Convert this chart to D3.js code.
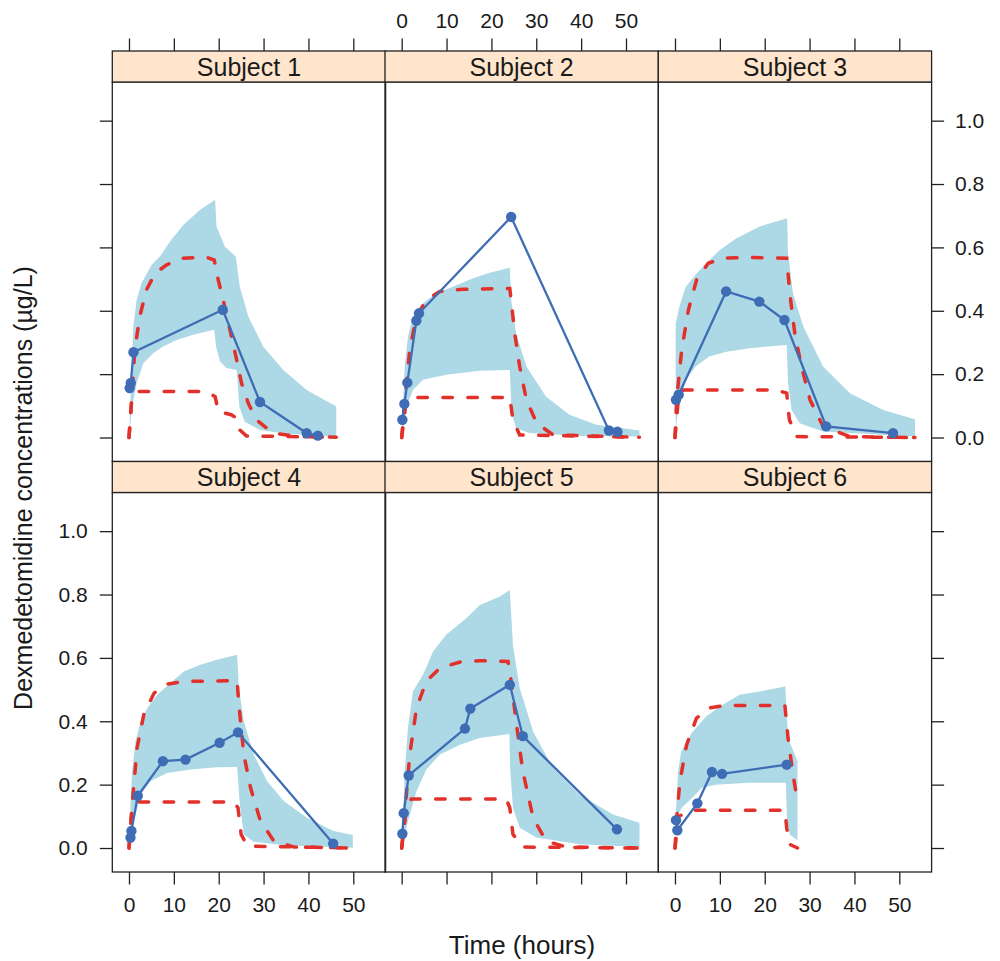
<!DOCTYPE html>
<html>
<head>
<meta charset="utf-8">
<script src="https://cdn.jsdelivr.net/npm/d3@7"></script>
<style>
  body { margin: 0; background: #fff; }
  svg text { font-family: "Liberation Sans", Arial, Helvetica, sans-serif; fill: #1a1a1a; }
</style>
</head>
<body>
<svg id="chart" width="1000" height="961"></svg>
<script>
const subjects = ["Subject 1", "Subject 2", "Subject 3", "Subject 4", "Subject 5", "Subject 6"];
const xTicks = [0, 10, 20, 30, 40, 50];
const yTicks = [0, 0.2, 0.4, 0.6, 0.8, 1.0];

// observed concentrations
const obsTime = [
  [0.15, 0.4, 1.0, 20.9, 29.2, 39.6, 42.1],
  [0.15, 0.6, 1.26, 3.27, 3.86, 24.4, 46.2, 48.1],
  [0.22, 0.82, 11.4, 18.8, 24.4, 33.7, 48.6],
  [0.33, 0.55, 1.96, 7.55, 12.6, 20.2, 24.3, 45.5],
  [0.15, 0.45, 1.56, 14.1, 15.3, 24.1, 27.0, 48.0],
  [0.22, 0.52, 4.98, 8.24, 10.5, 24.9]
];
const obsConc = [
  [0.156, 0.172, 0.269, 0.403, 0.112, 0.014, 0.006],
  [0.056, 0.106, 0.173, 0.369, 0.392, 0.696, 0.022, 0.018],
  [0.119, 0.135, 0.461, 0.429, 0.371, 0.035, 0.014],
  [0.033, 0.054, 0.165, 0.274, 0.279, 0.332, 0.365, 0.014],
  [0.045, 0.110, 0.229, 0.377, 0.440, 0.515, 0.353, 0.059],
  [0.088, 0.056, 0.141, 0.240, 0.234, 0.263]
];

// prediction band, upper edge
const bandHiTime = [
  [0, 0.96, 1.7, 2.8, 5.05, 6.9, 9.1, 12.1, 15.8, 19.2, 19.5, 21.4, 23.8, 24.7, 26.6, 29.9, 34.4, 39.6, 46.2],
  [0, 0.67, 1.4, 2.5, 4.75, 7.7, 11.4, 15.9, 19.6, 24.1, 24.4, 25.5, 27.8, 32.2, 37.4, 43.4, 53.0],
  [0.15, 0.97, 2.4, 4.8, 7.0, 10.0, 13.7, 18.9, 25.0, 25.2, 26.3, 28.6, 33.0, 39.0, 46.4, 53.5],
  [0.19, 0.33, 0.7, 1.45, 2.6, 4.1, 6.3, 9.2, 12.2, 15.9, 19.6, 24.1, 24.5, 25.6, 27.8, 30.8, 34.5, 39.7, 45.6, 49.9],
  [0, 0.3, 0.67, 1.4, 2.5, 4.75, 7.0, 9.9, 14.4, 17.4, 21.8, 24.1, 24.8, 26.3, 29.3, 33.7, 39.6, 47.1, 53.0],
  [0.2, 0.7, 1.4, 3.7, 7.0, 10.0, 14.4, 18.2, 24.6, 25.2, 27.3]
];
const bandHi = [
  [0, 0.35, 0.434, 0.487, 0.545, 0.571, 0.618, 0.671, 0.718, 0.75, 0.666, 0.602, 0.571, 0.476, 0.382, 0.287, 0.213, 0.150, 0.098],
  [0, 0.224, 0.319, 0.382, 0.424, 0.455, 0.476, 0.503, 0.52, 0.536, 0.434, 0.329, 0.224, 0.129, 0.072, 0.04, 0.022],
  [0.36, 0.413, 0.476, 0.518, 0.55, 0.592, 0.629, 0.666, 0.692, 0.581, 0.455, 0.35, 0.224, 0.14, 0.087, 0.058],
  [0, 0.137, 0.242, 0.337, 0.4, 0.442, 0.484, 0.52, 0.557, 0.578, 0.594, 0.61, 0.505, 0.4, 0.295, 0.211, 0.148, 0.095, 0.054, 0.041],
  [0, 0.085, 0.242, 0.379, 0.494, 0.547, 0.62, 0.673, 0.725, 0.767, 0.793, 0.814, 0.641, 0.505, 0.368, 0.253, 0.169, 0.106, 0.08],
  [0.106, 0.242, 0.305, 0.363, 0.416, 0.447, 0.484, 0.492, 0.51, 0.347, 0.274]
];

// prediction band, lower edge
const bandLoTime = [
  [0, 0.59, 1.7, 3.2, 5.4, 7.6, 10.6, 14.3, 19.0, 19.4, 20.3, 21.7, 24.0, 24.6, 25.8, 29.2, 35.1, 46.2],
  [0, 1.04, 2.5, 4.75, 9.9, 17.4, 24.1, 24.5, 25.5, 28.5, 39.6, 53.0],
  [0.15, 0.97, 2.4, 4.6, 7.6, 11.5, 16.7, 24.9, 25.2, 26.0, 27.8, 33.0, 53.5],
  [0.19, 1.1, 2.6, 4.8, 8.5, 13.7, 19.6, 24.1, 24.7, 25.6, 27.8, 34.5, 49.9],
  [0, 1.4, 3.3, 5.5, 8.5, 13.0, 17.4, 24.0, 24.2, 24.8, 26.3, 30.0, 39.6, 53.0],
  [0.2, 1.5, 3.8, 6.0, 9.0, 16.4, 24.7, 25.0, 25.6, 27.3]
];
const bandLo = [
  [0, 0.087, 0.171, 0.234, 0.266, 0.287, 0.308, 0.324, 0.340, 0.287, 0.240, 0.219, 0.213, 0.098, 0.05, 0.024, 0.012, 0.003],
  [0, 0.098, 0.15, 0.182, 0.198, 0.211, 0.213, 0.077, 0.029, 0.014, 0.005, 0.003],
  [0.03, 0.108, 0.182, 0.224, 0.256, 0.271, 0.282, 0.292, 0.171, 0.087, 0.045, 0.019, 0.003],
  [0, 0.085, 0.169, 0.211, 0.237, 0.248, 0.255, 0.256, 0.137, 0.043, 0.02, 0.009, 0.001],
  [0, 0.085, 0.179, 0.248, 0.295, 0.326, 0.347, 0.36, 0.242, 0.127, 0.064, 0.033, 0.012, 0.003],
  [0.09, 0.127, 0.158, 0.19, 0.2, 0.206, 0.206, 0.085, 0.043, 0.024]
];

// predicted curves (red dashed), upper
const predHiTime = [
  [0, 0.6, 1.3, 2.4, 3.9, 5.8, 8.4, 12.1, 17.3, 19.0, 19.9, 21.0, 22.5, 24.0, 25.1, 26.6, 28.4, 32.1, 38.1, 46.2],
  [0, 0.67, 1.8, 3.27, 5.5, 8.5, 13.7, 24.1, 24.4, 25.2, 26.3, 27.8, 30.1, 33.8, 53.0],
  [0, 0.37, 1.5, 3.0, 4.8, 7.4, 10.8, 16.7, 24.9, 25.6, 26.7, 28.2, 30.1, 33.0, 39.0, 53.5],
  [0, 0.7, 1.8, 3.3, 5.6, 8.5, 12.2, 24.1, 24.5, 25.6, 27.1, 29.3, 32.3, 36.8, 50.2],
  [0, 0.67, 1.8, 3.3, 5.5, 8.5, 13.0, 17.4, 23.7, 24.4, 25.5, 27.0, 29.3, 32.2, 36.7, 53.0],
  [0, 0.37, 1.1, 2.6, 4.8, 7.7, 10.7, 16.7, 24.5, 25.2, 26.3, 27.3]
];
const predHi = [
  [0, 0.119, 0.277, 0.382, 0.466, 0.518, 0.545, 0.566, 0.569, 0.560, 0.497, 0.434, 0.340, 0.245, 0.171, 0.108, 0.056, 0.014, 0.003, 0.001],
  [0, 0.119, 0.277, 0.382, 0.434, 0.461, 0.468, 0.470, 0.434, 0.329, 0.224, 0.119, 0.045, 0.008, 0.001],
  [0, 0.119, 0.277, 0.403, 0.497, 0.55, 0.566, 0.568, 0.566, 0.455, 0.329, 0.224, 0.119, 0.035, 0.003, 0],
  [0, 0.137, 0.316, 0.421, 0.489, 0.517, 0.526, 0.528, 0.452, 0.295, 0.19, 0.085, 0.022, 0.003, 0],
  [0, 0.106, 0.295, 0.442, 0.526, 0.568, 0.587, 0.591, 0.589, 0.526, 0.4, 0.242, 0.095, 0.022, 0.003, 0],
  [0, 0.095, 0.211, 0.326, 0.41, 0.442, 0.449, 0.45, 0.45, 0.347, 0.232, 0.148]
];

// predicted curves (red dashed), lower
const predLoTime = [
  [0, 0.6, 1.7, 17.3, 19.2, 19.9, 22.8, 24.0, 24.7, 26.2, 46.2],
  [0, 1.04, 2.1, 24.1, 24.8, 26.3, 53.0],
  [0, 0.9, 1.9, 22.6, 24.9, 25.5, 27.1, 53.5],
  [0, 0.7, 1.8, 23.4, 24.3, 25.0, 26.4, 50.2],
  [0, 1.04, 2.15, 23.3, 24.1, 24.8, 27.0, 53.0],
  [0, 0.82, 3.7, 24.5, 24.9, 25.5, 27.3]
];
const predLo = [
  [0, 0.12, 0.145, 0.145, 0.129, 0.082, 0.072, 0.061, 0.024, 0.005, 0.001],
  [0, 0.119, 0.126, 0.126, 0.056, 0.008, 0.001],
  [0, 0.145, 0.15, 0.15, 0.14, 0.056, 0.003, 0],
  [0, 0.127, 0.145, 0.145, 0.127, 0.043, 0.006, 0],
  [0, 0.127, 0.155, 0.155, 0.127, 0.043, 0.003, 0],
  [0, 0.1, 0.119, 0.119, 0.064, 0.012, 0]
];

const svg = d3.select("#chart");
const colX = [112.3, 385, 658.3];
const panelW = 273.3;
const rowTop = [51, 461.5];
const stripH = 31;
const panelH = 379.5;
const tickLen = 12.5;

const x = d3.scaleLinear().domain([-3.72, 57.2]).range([0, panelW]);
const y = d3.scaleLinear().domain([-0.0757, 1.122]).range([panelH, 0]);

const bandColor = "#add8e6";
const obsColor = "#3e6db6";
const predColor = "#e2302a";

svg.append("defs").append("clipPath").attr("id", "pclip")
  .append("rect").attr("width", panelW).attr("height", panelH);

const line = d3.line().x(d => x(d[0])).y(d => y(d[1]));

subjects.forEach((name, i) => {
  const row = i < 3 ? 0 : 1;
  const col = i % 3;
  const g = svg.append("g")
    .attr("transform", `translate(${colX[col]},${rowTop[row] + stripH})`);

  // strip
  const strip = svg.append("g").attr("transform", `translate(${colX[col]},${rowTop[row]})`);
  strip.append("rect").attr("width", panelW).attr("height", stripH)
    .attr("fill", "#ffe5cc").attr("stroke", "#222").attr("stroke-width", 1.3);
  strip.append("text").attr("x", panelW / 2).attr("y", stripH / 2).attr("dy", "0.36em")
    .attr("text-anchor", "middle").style("font-size", "25px").text(name);

  const inner = g.append("g").attr("clip-path", "url(#pclip)");

  // band polygon: upper forward, lower reversed
  const hi = bandHiTime[i].map((t, k) => [t, bandHi[i][k]]);
  const lo = bandLoTime[i].map((t, k) => [t, bandLo[i][k]]).reverse();
  inner.append("path").attr("d", line(hi.concat(lo)) + "Z")
    .attr("fill", bandColor).attr("stroke", "none");

  // predicted dashed curves
  [[predHiTime[i], predHi[i]], [predLoTime[i], predLo[i]]].forEach(([ts, vs]) => {
    inner.append("path").attr("d", line(ts.map((t, k) => [t, vs[k]])))
      .attr("fill", "none").attr("stroke", predColor).attr("stroke-width", 3.5)
      .attr("stroke-dasharray", "9.5,15.5").attr("stroke-linecap", "round");
  });

  // observed
  const obs = obsTime[i].map((t, k) => [t, obsConc[i][k]]);
  inner.append("path").attr("d", line(obs))
    .attr("fill", "none").attr("stroke", obsColor).attr("stroke-width", 2.3);
  inner.selectAll("circle").data(obs).enter().append("circle")
    .attr("cx", d => x(d[0])).attr("cy", d => y(d[1])).attr("r", 5.2)
    .attr("fill", obsColor);

  // panel border
  g.append("rect").attr("width", panelW).attr("height", panelH)
    .attr("fill", "none").attr("stroke", "#222").attr("stroke-width", 1.3);

  // axes (lattice alternating style)
  const showLabelTop = row === 0 && col === 1;
  const showLabelBottom = row === 1 && col !== 1;
  const showLabelLeft = row === 1 && col === 0;
  const showLabelRight = row === 0 && col === 2;

  if (row === 0) {
    const ax = d3.axisTop(x).tickValues(xTicks).tickSize(tickLen).tickPadding(11).tickSizeOuter(0)
      .tickFormat(showLabelTop ? d3.format("d") : "");
    strip.append("g").call(ax);
  } else {
    const ax = d3.axisBottom(x).tickValues(xTicks).tickSize(tickLen).tickPadding(13).tickSizeOuter(0)
      .tickFormat(showLabelBottom ? d3.format("d") : "");
    g.append("g").attr("transform", `translate(0,${panelH})`).call(ax);
  }
  if (col === 0) {
    const ax = d3.axisLeft(y).tickValues(yTicks).tickSize(tickLen).tickPadding(12).tickSizeOuter(0)
      .tickFormat(showLabelLeft ? d3.format(".1f") : "");
    g.append("g").call(ax);
  }
  if (col === 2) {
    const ax = d3.axisRight(y).tickValues(yTicks).tickSize(tickLen).tickPadding(11).tickSizeOuter(0)
      .tickFormat(showLabelRight ? d3.format(".1f") : "");
    g.append("g").attr("transform", `translate(${panelW},0)`).call(ax);
  }
});

svg.selectAll(".domain").remove();
svg.selectAll(".tick line").attr("stroke", "#222").attr("stroke-width", 1.3);
svg.selectAll(".tick text").style("font-size", "21px").attr("fill", "#1a1a1a");

// axis titles
svg.append("text").attr("x", 522).attr("y", 954).attr("text-anchor", "middle")
  .style("font-size", "26px").text("Time (hours)");
svg.append("text").attr("transform", "translate(32,488) rotate(-90)").attr("text-anchor", "middle")
  .style("font-size", "25px").text("Dexmedetomidine concentrations (µg/L)");
</script>
</body>
</html>
